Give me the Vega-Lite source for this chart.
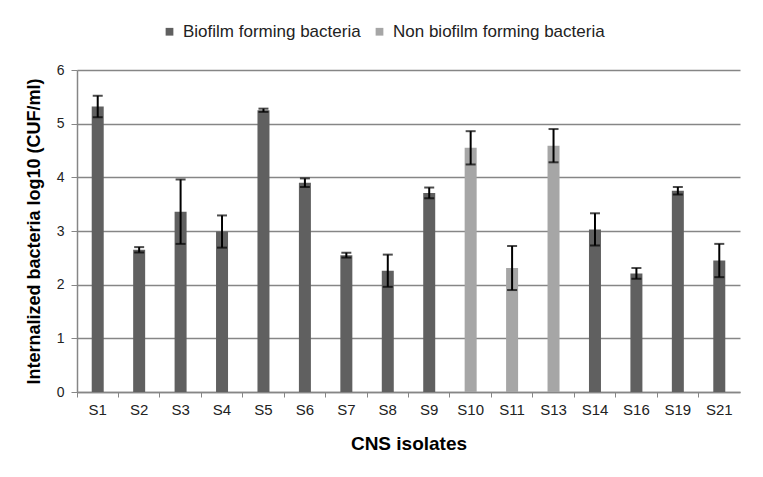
{
  "$schema": "https://vega.github.io/schema/vega-lite/v6.json",
  "width": 663,
  "height": 322,
  "autosize": {"type": "none"},
  "padding": {"left": 77, "top": 70, "right": 23, "bottom": 85},
  "background": "white",
  "config": {"view": {"stroke": null}, "font": "Liberation Sans"},
  "data": {"values": [
    {"isolate": "S1", "group": "Biofilm forming bacteria", "value": 5.32, "err": 0.2},
    {"isolate": "S2", "group": "Biofilm forming bacteria", "value": 2.65, "err": 0.05},
    {"isolate": "S3", "group": "Biofilm forming bacteria", "value": 3.36, "err": 0.6},
    {"isolate": "S4", "group": "Biofilm forming bacteria", "value": 2.99, "err": 0.3},
    {"isolate": "S5", "group": "Biofilm forming bacteria", "value": 5.25, "err": 0.03},
    {"isolate": "S6", "group": "Biofilm forming bacteria", "value": 3.9, "err": 0.08},
    {"isolate": "S7", "group": "Biofilm forming bacteria", "value": 2.55, "err": 0.045},
    {"isolate": "S8", "group": "Biofilm forming bacteria", "value": 2.26, "err": 0.3},
    {"isolate": "S9", "group": "Biofilm forming bacteria", "value": 3.71, "err": 0.1},
    {"isolate": "S10", "group": "Non biofilm forming bacteria", "value": 4.55, "err": 0.31},
    {"isolate": "S11", "group": "Non biofilm forming bacteria", "value": 2.31, "err": 0.41},
    {"isolate": "S13", "group": "Non biofilm forming bacteria", "value": 4.59, "err": 0.31},
    {"isolate": "S14", "group": "Biofilm forming bacteria", "value": 3.03, "err": 0.3},
    {"isolate": "S16", "group": "Biofilm forming bacteria", "value": 2.21, "err": 0.1},
    {"isolate": "S19", "group": "Biofilm forming bacteria", "value": 3.75, "err": 0.07},
    {"isolate": "S21", "group": "Biofilm forming bacteria", "value": 2.45, "err": 0.31}
  ]},
  "layer": [
    {
      "mark": {"type": "bar", "size": 12},
      "encoding": {
        "x": {
          "field": "isolate", "type": "nominal", "sort": null,
          "scale": {"paddingInner": 0, "paddingOuter": 0},
          "axis": {
            "title": "CNS isolates", "titleFontSize": 19, "titleFontWeight": "bold", "titleColor": "#000",
            "titlePadding": 17,
            "labelAngle": 0, "labelFontSize": 15, "labelColor": "#222", "labelPadding": 5,
            "bandPosition": 0,
            "tickColor": "#868686", "tickSize": 5, "domainColor": "#868686", "domainWidth": 1.5
          }
        },
        "y": {
          "field": "value", "type": "quantitative",
          "scale": {"domain": [0, 6]},
          "axis": {
            "title": "Internalized bacteria log10 (CUF/ml)", "titleFontSize": 18, "titleFontWeight": "bold", "titleColor": "#000",
            "titlePadding": 13,
            "values": [0, 1, 2, 3, 4, 5, 6], "format": "d", "labelFontSize": 14, "labelColor": "#222", "labelPadding": 7,
            "grid": true, "gridColor": "#868686", "gridWidth": 1.5,
            "tickColor": "#868686", "tickSize": 6, "domainColor": "#868686", "domainWidth": 1.5
          }
        },
        "color": {
          "field": "group", "type": "nominal",
          "scale": {"domain": ["Biofilm forming bacteria", "Non biofilm forming bacteria"], "range": ["#606060", "#a6a6a6"]},
          "legend": {
            "title": null, "orient": "none", "direction": "horizontal",
            "legendX": 84, "legendY": -47,
            "symbolType": "square", "symbolSize": 60, "symbolStrokeWidth": 0,
            "labelFontSize": 17, "labelColor": "#222", "labelOffset": 5, "labelLimit": 400, "columnSpacing": 26
          }
        }
      }
    },
    {
      "mark": {"type": "errorbar", "color": "black", "thickness": 2, "ticks": {"size": 10, "thickness": 2, "color": "black"}},
      "encoding": {
        "x": {"field": "isolate", "type": "nominal", "sort": null},
        "y": {"field": "value", "type": "quantitative", "title": "Internalized bacteria log10 (CUF/ml)"},
        "yError": {"field": "err"}
      }
    }
  ]
}
